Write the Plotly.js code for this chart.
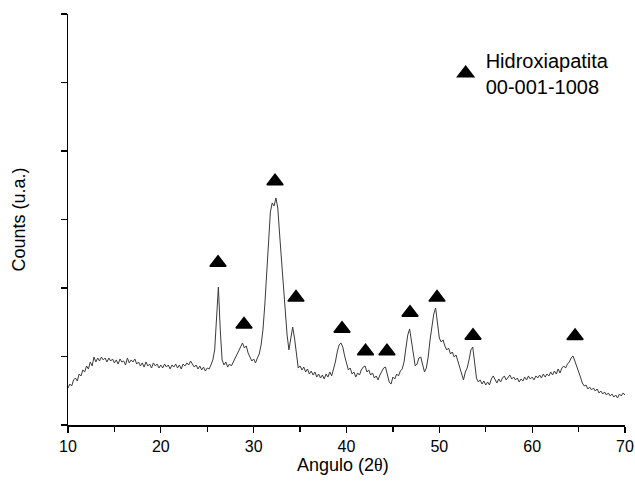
<!DOCTYPE html>
<html>
<head>
<meta charset="utf-8">
<script src="https://cdn.plot.ly/plotly-3.0.1.min.js"></script>
<style>html,body{margin:0;padding:0;background:#fff;}#chart{width:635px;height:489px;}</style>
</head>
<body>
<div id="chart"></div>
<script>
var angle = [
10.0,10.2,10.4,10.6,10.8,11.0,11.2,11.4,11.6,11.8,
12.0,12.2,12.4,12.6,12.8,13.0,13.2,13.4,13.6,13.8,
14.0,14.2,14.4,14.6,14.8,15.0,15.2,15.4,15.6,15.8,
16.0,16.2,16.4,16.6,16.8,17.0,17.2,17.4,17.6,17.8,
18.0,18.2,18.4,18.6,18.8,19.0,19.2,19.4,19.6,19.8,
20.0,20.2,20.4,20.6,20.8,21.0,21.2,21.4,21.6,21.8,
22.0,22.2,22.4,22.6,22.8,23.0,23.2,23.4,23.6,23.8,
24.0,24.2,24.4,24.6,24.8,25.0,25.2,25.4,25.6,25.8,
26.0,26.2,26.4,26.6,26.8,27.0,27.2,27.4,27.6,27.8,
28.0,28.2,28.4,28.6,28.8,29.0,29.2,29.4,29.6,29.8,
30.0,30.2,30.4,30.6,30.8,31.0,31.2,31.4,31.6,31.8,
32.0,32.2,32.4,32.6,32.8,33.0,33.2,33.4,33.6,33.8,
34.0,34.2,34.4,34.6,34.8,35.0,35.2,35.4,35.6,35.8,
36.0,36.2,36.4,36.6,36.8,37.0,37.2,37.4,37.6,37.8,
38.0,38.2,38.4,38.6,38.8,39.0,39.2,39.4,39.6,39.8,
40.0,40.2,40.4,40.6,40.8,41.0,41.2,41.4,41.6,41.8,
42.0,42.2,42.4,42.6,42.8,43.0,43.2,43.4,43.6,43.8,
44.0,44.2,44.4,44.6,44.8,45.0,45.2,45.4,45.6,45.8,
46.0,46.2,46.4,46.6,46.8,47.0,47.2,47.4,47.6,47.8,
48.0,48.2,48.4,48.6,48.8,49.0,49.2,49.4,49.6,49.8,
50.0,50.2,50.4,50.6,50.8,51.0,51.2,51.4,51.6,51.8,
52.0,52.2,52.4,52.6,52.8,53.0,53.2,53.4,53.6,53.8,
54.0,54.2,54.4,54.6,54.8,55.0,55.2,55.4,55.6,55.8,
56.0,56.2,56.4,56.6,56.8,57.0,57.2,57.4,57.6,57.8,
58.0,58.2,58.4,58.6,58.8,59.0,59.2,59.4,59.6,59.8,
60.0,60.2,60.4,60.6,60.8,61.0,61.2,61.4,61.6,61.8,
62.0,62.2,62.4,62.6,62.8,63.0,63.2,63.4,63.6,63.8,
64.0,64.2,64.4,64.6,64.8,65.0,65.2,65.4,65.6,65.8,
66.0,66.2,66.4,66.6,66.8,67.0,67.2,67.4,67.6,67.8,
68.0,68.2,68.4,68.6,68.8,69.0,69.2,69.4,69.6,69.8,
70.0];

var counts = [
270,299,285,329,343,321,372,358,402,387,
431,409,460,431,496,460,489,467,496,475,
489,460,489,467,482,453,475,445,482,460,
467,438,489,453,475,460,482,445,460,431,
453,423,460,431,445,416,453,431,445,416,
438,416,445,423,438,409,438,423,445,416,
438,409,445,431,453,438,467,445,423,438,
409,431,402,423,394,416,409,438,475,548,
767,1007,694,475,438,460,423,445,431,460,
489,518,548,569,599,562,577,526,489,467,
482,453,489,518,584,694,876,1132,1387,1555,
1621,1599,1657,1584,1387,1190,1022,840,657,548,
635,715,635,511,416,431,402,423,387,409,
372,394,365,387,350,372,343,365,336,372,
350,387,358,409,460,533,584,599,569,504,
453,402,416,372,387,350,380,365,402,423,
431,387,402,365,380,343,358,329,365,394,
416,423,372,314,299,350,336,372,358,394,
409,460,562,657,701,621,511,431,445,489,
496,431,387,416,496,621,730,810,854,752,
635,606,621,577,548,562,518,533,496,511,
467,416,372,329,387,416,475,548,569,460,
343,314,329,299,321,292,314,292,336,358,
329,307,336,314,343,358,329,350,365,336,
350,329,343,314,336,321,350,329,358,336,
350,329,358,343,365,343,372,350,372,358,
387,365,394,372,409,380,416,431,416,445,
460,489,504,467,431,387,350,307,285,292,
263,277,256,270,248,263,234,248,226,241,
219,234,212,226,204,219,197,226,212,234,
219];

var peakAngle = [26.16, 28.96, 32.30, 34.56, 39.52, 42.05, 44.36, 46.84, 49.75, 53.63, 64.62];
var peakCounts = [1185, 733, 1780, 930, 703, 539, 539, 820, 930, 652, 650];

var xTickVals = [10, 20, 30, 40, 50, 60, 70];
var xTickText = ['10', '20', '30', '40', '50', '60', '70'];
var legendName = 'Hidroxiapatita<br>00-001-1008';
var xTitle = 'Angulo (2<span style="font-family:\'Liberation Serif\'">θ</span>)';
var yTitle = 'Counts (u.a.)';

var FONT = 'Liberation Sans, Arial, sans-serif';

var traces = [
  {
    x: angle, y: counts, type: 'scatter', mode: 'lines',
    line: {color: '#3a3a3a', width: 1},
    showlegend: false, hoverinfo: 'skip'
  },
  {
    x: peakAngle, y: peakCounts, type: 'scatter', mode: 'markers',
    name: legendName,
    marker: {symbol: 'triangle-up', size: 14, color: '#000', line: {color: '#000', width: 1.5}}
  }
];

var layout = {
  width: 635, height: 489,
  margin: {l: 68, r: 10, t: 14, b: 64, pad: 0},
  paper_bgcolor: '#fff', plot_bgcolor: '#fff',
  font: {family: FONT, color: '#000', size: 16},
  xaxis: {
    range: [10, 70], tickmode: 'array', tickvals: xTickVals, ticktext: xTickText,
    ticks: 'outside', ticklen: 6, tickwidth: 1.2, tickcolor: '#000',
    showline: true, linecolor: '#000', linewidth: 1.5, showgrid: false, zeroline: false,
    tickfont: {family: FONT, size: 16, color: '#000'},
    minor: {dtick: 5, tick0: 0, ticks: 'outside', ticklen: 5, tickwidth: 1.2, tickcolor: '#000', showgrid: false},
    fixedrange: true
  },
  yaxis: {
    range: [0, 3000], tick0: 0, dtick: 500, showticklabels: false,
    ticks: 'outside', ticklen: 6, tickwidth: 1.2, tickcolor: '#000',
    showline: true, linecolor: '#000', linewidth: 1.5, showgrid: false, zeroline: false,
    fixedrange: true
  },
  showlegend: true,
  legend: {
    x: 0.678, xanchor: 'left', y: 0.856, yanchor: 'middle',
    bgcolor: 'rgba(0,0,0,0)', borderwidth: 0,
    font: {family: FONT, size: 20, color: '#000'}
  },
  annotations: [
    {text: xTitle, xref: 'paper', yref: 'paper', x: 0.494, y: 0, yanchor: 'middle', xanchor: 'center',
     yshift: -40, showarrow: false, font: {family: FONT, size: 18, color: '#000'}},
    {text: yTitle, xref: 'paper', yref: 'paper', x: 0, y: 0.5, xanchor: 'center', yanchor: 'middle',
     xshift: -50, textangle: -90, showarrow: false, font: {family: FONT, size: 18, color: '#000'}}
  ]
};

Plotly.newPlot('chart', traces, layout, {displayModeBar: false, staticPlot: true});
</script>
</body>
</html>
